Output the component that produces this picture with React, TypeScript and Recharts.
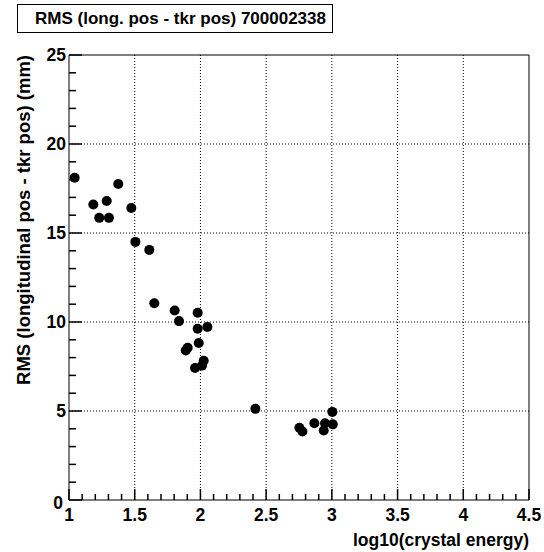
import { ReferenceLine, Scatter, ScatterChart, XAxis, YAxis } from "recharts";

// log10(crystal energy) and RMS (mm)
const logEnergy = [
  1.043, 1.185, 1.23, 1.287, 1.304, 1.375, 1.474, 1.505, 1.611, 1.649, 1.804, 1.837, 1.979, 1.979, 2.053,
  1.987, 1.888, 1.903, 2.025, 2.012, 1.959, 2.418, 3.004, 2.753, 2.776, 2.867, 2.948, 2.938, 3.007,
];
const rmsMm = [
  18.1, 16.6, 15.85, 16.8, 15.85, 17.75, 16.4, 14.5, 14.05, 11.05, 10.65, 10.05, 10.52, 9.62, 9.72,
  8.82, 8.4, 8.55, 7.82, 7.55, 7.42, 5.12, 4.95, 4.06, 3.85, 4.31, 4.31, 3.9, 4.25,
];

const xMajor = [1, 1.5, 2, 2.5, 3, 3.5, 4, 4.5];
const yMajor = [0, 5, 10, 15, 20, 25];
const xGrid = [1.5, 2, 2.5, 3, 3.5, 4];
const yGrid = [5, 10, 15, 20];

const title = "RMS (long. pos - tkr pos) 700002338";
const xTitle = "log10(crystal energy)";
const yTitle = "RMS (longitudinal pos - tkr pos) (mm)";

const points = logEnergy.map((x, i) => ({ x, y: rmsMm[i] }));

// minor ticks: 5 per major division
const xTicks: number[] = [];
for (let i = 0; i <= 35; i++) xTicks.push(Math.round((1 + i * 0.1) * 10) / 10);
const yTicks: number[] = [];
for (let i = 0; i <= 25; i++) yTicks.push(i);

const isMajorX = (v: number) => xMajor.some((m) => Math.abs(m - v) < 1e-6);

const FONT = "'Liberation Sans', Arial, Helvetica, sans-serif";
const FS = 17.5;

function XTick(props: any) {
  const { x, y, payload } = props;
  const major = isMajorX(payload.value);
  return (
    <g>
      <path d={`M${x},${y}V${y - (major ? 11 : 6)}`} stroke="#000" strokeWidth={1.5} fill="none" />
      {major && (
        <text x={x} y={y + 21} textAnchor="middle" fontSize={FS} fontWeight="bold" fontFamily={FONT} fill="#000">
          {payload.value}
        </text>
      )}
    </g>
  );
}

function YTick(props: any) {
  const { x, y, payload } = props;
  const major = yMajor.includes(payload.value);
  const isZero = payload.value === 0;
  return (
    <g>
      <path d={`M${x},${y}H${x + (major ? 13 : 7)}`} stroke="#000" strokeWidth={1.5} fill="none" />
      {major && (
        <text
          x={x - (isZero ? 6 : 3)}
          y={y + (isZero ? 9 : 6)}
          textAnchor="end"
          fontSize={FS}
          fontWeight="bold"
          fontFamily={FONT}
          fill="#000"
        >
          {payload.value}
        </text>
      )}
    </g>
  );
}

export default function App() {
  return (
    <div style={{ position: "absolute", left: 0, top: 0, width: 544, height: 552, background: "#fff" }}>
      <div
        style={{
          position: "absolute",
          left: 17,
          top: 4,
          width: 316,
          height: 29,
          border: "1px solid #000",
          fontFamily: FONT,
          fontWeight: "bold",
          fontSize: 17,
          lineHeight: "27px",
          paddingLeft: 17,
          boxSizing: "border-box",
          whiteSpace: "nowrap",
        }}
      >
        {title}
      </div>
      <ScatterChart width={544} height={552} margin={{ top: 55, right: 15, bottom: 0, left: 0 }}>
        <XAxis
          type="number"
          dataKey="x"
          domain={[1, 4.5]}
          ticks={xTicks}
          interval={0}
          tick={<XTick />}
          tickLine={false}
          tickSize={0}
          tickMargin={0}
          axisLine={{ stroke: "#000" }}
          height={52}
          allowDataOverflow
          label={{
            content: () => (
              <text x={529} y={546} textAnchor="end" fontSize={FS} fontWeight="bold" fontFamily={FONT} fill="#000">
                {xTitle}
              </text>
            ),
          }}
        />
        <YAxis
          type="number"
          dataKey="y"
          domain={[0, 25]}
          ticks={yTicks}
          interval={0}
          tick={<YTick />}
          tickLine={false}
          tickSize={0}
          tickMargin={0}
          axisLine={{ stroke: "#000" }}
          width={69}
          allowDataOverflow
          label={{
            content: () => (
              <text
                transform="translate(30,55) rotate(-90)"
                textAnchor="end"
                fontSize={18.5}
                fontWeight="bold"
                fontFamily={FONT}
                fill="#000"
              >
                {yTitle}
              </text>
            ),
          }}
        />
        {xGrid.map((v) => (
          <ReferenceLine key={"gx" + v} x={v} stroke="#000" strokeDasharray="1 2" />
        ))}
        {yGrid.map((v) => (
          <ReferenceLine key={"gy" + v} y={v} stroke="#000" strokeDasharray="1 2" />
        ))}
        <ReferenceLine x={4.5} stroke="#000" />
        <ReferenceLine y={25} stroke="#000" />
        <Scatter
          data={points}
          isAnimationActive={false}
          shape={(p: any) => <circle cx={p.cx} cy={p.cy} r={5} fill="#000" />}
        />
      </ScatterChart>
    </div>
  );
}
